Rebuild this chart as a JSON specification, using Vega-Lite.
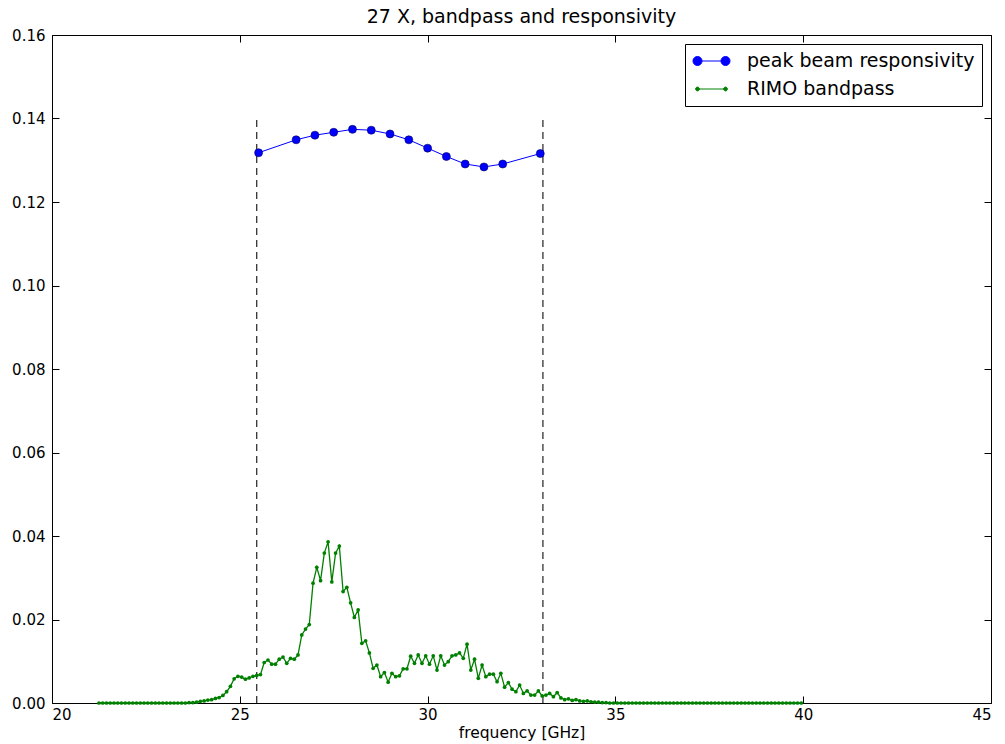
{
  "$schema": "https://vega.github.io/schema/vega-lite/v6.json",
  "width": 939,
  "height": 668,
  "autosize": {"type": "none"},
  "padding": {"left": 52, "top": 35, "right": 14, "bottom": 41},
  "title": {"text": "27 X, bandpass and responsivity", "fontSize": 19, "font": "DejaVu Sans", "fontWeight": "normal", "color": "black", "offset": 1},
  "config": {
    "font": "DejaVu Sans",
    "view": {"stroke": "black", "strokeWidth": 1},
    "axis": {"domain": false, "grid": false, "tickColor": "black", "tickSize": -7, "tickWidth": 1, "labelFont": "DejaVu Sans", "labelFontSize": 15, "labelColor": "black", "titleFont": "DejaVu Sans", "titleFontSize": 15.5, "titleFontWeight": "normal", "titleColor": "black"},
    "legend": {"labelFont": "DejaVu Sans", "labelFontSize": 19, "labelColor": "black", "labelLimit": 0}
  },
  "datasets": {
    "edges": [{"f": 25.45}, {"f": 33.07}],
    "resp": [
      {"f": 25.5, "v": 0.1318}, {"f": 26.5, "v": 0.1349}, {"f": 27.0, "v": 0.1360}, {"f": 27.5, "v": 0.1367},
      {"f": 28.0, "v": 0.1374}, {"f": 28.5, "v": 0.1372}, {"f": 29.0, "v": 0.1363}, {"f": 29.5, "v": 0.1349},
      {"f": 30.0, "v": 0.1329}, {"f": 30.5, "v": 0.1309}, {"f": 31.0, "v": 0.1291}, {"f": 31.5, "v": 0.1284},
      {"f": 32.0, "v": 0.1291}, {"f": 33.0, "v": 0.1316}
    ],
    "band": [
      {"f": 21.25, "v": 0}, {"f": 21.35, "v": 0}, {"f": 21.45, "v": 0}, {"f": 21.55, "v": 0}, {"f": 21.65, "v": 0},
      {"f": 21.75, "v": 0}, {"f": 21.85, "v": 0}, {"f": 21.95, "v": 0}, {"f": 22.05, "v": 0}, {"f": 22.15, "v": 0},
      {"f": 22.25, "v": 0}, {"f": 22.35, "v": 0}, {"f": 22.45, "v": 0}, {"f": 22.55, "v": 0}, {"f": 22.65, "v": 0},
      {"f": 22.75, "v": 0}, {"f": 22.85, "v": 0}, {"f": 22.95, "v": 0}, {"f": 23.05, "v": 0}, {"f": 23.15, "v": 0},
      {"f": 23.25, "v": 0}, {"f": 23.35, "v": 0}, {"f": 23.45, "v": 0}, {"f": 23.55, "v": 0}, {"f": 23.65, "v": 0.0001},
      {"f": 23.75, "v": 0.0001}, {"f": 23.85, "v": 0.0002}, {"f": 23.95, "v": 0.0004}, {"f": 24.05, "v": 0.0005},
      {"f": 24.15, "v": 0.0007}, {"f": 24.25, "v": 0.0008}, {"f": 24.35, "v": 0.0011}, {"f": 24.45, "v": 0.0013},
      {"f": 24.55, "v": 0.0018}, {"f": 24.65, "v": 0.0027}, {"f": 24.75, "v": 0.0040}, {"f": 24.85, "v": 0.0058},
      {"f": 24.95, "v": 0.0064}, {"f": 25.05, "v": 0.0062}, {"f": 25.15, "v": 0.0057}, {"f": 25.25, "v": 0.0060},
      {"f": 25.35, "v": 0.0064}, {"f": 25.45, "v": 0.0066}, {"f": 25.55, "v": 0.0068}, {"f": 25.65, "v": 0.0097},
      {"f": 25.75, "v": 0.0103}, {"f": 25.85, "v": 0.0093}, {"f": 25.95, "v": 0.0093}, {"f": 26.05, "v": 0.0105},
      {"f": 26.15, "v": 0.0110}, {"f": 26.25, "v": 0.0095}, {"f": 26.35, "v": 0.0107}, {"f": 26.45, "v": 0.0105},
      {"f": 26.55, "v": 0.0115}, {"f": 26.65, "v": 0.0163}, {"f": 26.75, "v": 0.0177}, {"f": 26.85, "v": 0.0188},
      {"f": 26.95, "v": 0.0287}, {"f": 27.05, "v": 0.0325}, {"f": 27.15, "v": 0.0293}, {"f": 27.25, "v": 0.0359},
      {"f": 27.35, "v": 0.0386}, {"f": 27.45, "v": 0.0290}, {"f": 27.55, "v": 0.0359}, {"f": 27.65, "v": 0.0376},
      {"f": 27.75, "v": 0.0267}, {"f": 27.85, "v": 0.0277}, {"f": 27.95, "v": 0.0240}, {"f": 28.05, "v": 0.0205},
      {"f": 28.15, "v": 0.0223}, {"f": 28.25, "v": 0.0143}, {"f": 28.35, "v": 0.0149}, {"f": 28.45, "v": 0.0120},
      {"f": 28.55, "v": 0.0083}, {"f": 28.65, "v": 0.0091}, {"f": 28.75, "v": 0.0063}, {"f": 28.85, "v": 0.0073},
      {"f": 28.95, "v": 0.0050}, {"f": 29.05, "v": 0.0071}, {"f": 29.15, "v": 0.0063}, {"f": 29.25, "v": 0.0065},
      {"f": 29.35, "v": 0.0082}, {"f": 29.45, "v": 0.0082}, {"f": 29.55, "v": 0.0112}, {"f": 29.65, "v": 0.0095},
      {"f": 29.75, "v": 0.0115}, {"f": 29.85, "v": 0.0095}, {"f": 29.95, "v": 0.0113}, {"f": 30.05, "v": 0.0093},
      {"f": 30.15, "v": 0.0113}, {"f": 30.25, "v": 0.0079}, {"f": 30.35, "v": 0.0113}, {"f": 30.45, "v": 0.0091},
      {"f": 30.55, "v": 0.0099}, {"f": 30.65, "v": 0.0113}, {"f": 30.75, "v": 0.0115}, {"f": 30.85, "v": 0.0120},
      {"f": 30.95, "v": 0.0107}, {"f": 31.05, "v": 0.0141}, {"f": 31.15, "v": 0.0079}, {"f": 31.25, "v": 0.0105},
      {"f": 31.35, "v": 0.0059}, {"f": 31.45, "v": 0.0091}, {"f": 31.55, "v": 0.0063}, {"f": 31.65, "v": 0.0069},
      {"f": 31.75, "v": 0.0069}, {"f": 31.85, "v": 0.0051}, {"f": 31.95, "v": 0.0071}, {"f": 32.05, "v": 0.0038},
      {"f": 32.15, "v": 0.0049}, {"f": 32.25, "v": 0.0033}, {"f": 32.35, "v": 0.0027}, {"f": 32.45, "v": 0.0043},
      {"f": 32.55, "v": 0.0023}, {"f": 32.65, "v": 0.0029}, {"f": 32.75, "v": 0.0019}, {"f": 32.85, "v": 0.0019},
      {"f": 32.95, "v": 0.0029}, {"f": 33.05, "v": 0.0017}, {"f": 33.15, "v": 0.0019}, {"f": 33.25, "v": 0.0023},
      {"f": 33.35, "v": 0.0015}, {"f": 33.45, "v": 0.0025}, {"f": 33.55, "v": 0.0012}, {"f": 33.65, "v": 0.0008},
      {"f": 33.75, "v": 0.0010}, {"f": 33.85, "v": 0.0006}, {"f": 33.95, "v": 0.0008}, {"f": 34.05, "v": 0.0005},
      {"f": 34.15, "v": 0.0004}, {"f": 34.25, "v": 0.0005}, {"f": 34.35, "v": 0.0003}, {"f": 34.45, "v": 0.0002},
      {"f": 34.55, "v": 0.0002}, {"f": 34.65, "v": 0.0001}, {"f": 34.75, "v": 0.0001}, {"f": 34.85, "v": 0},
      {"f": 34.95, "v": 0}, {"f": 35.05, "v": 0}, {"f": 35.15, "v": 0}, {"f": 35.25, "v": 0}, {"f": 35.35, "v": 0},
      {"f": 35.45, "v": 0}, {"f": 35.55, "v": 0}, {"f": 35.65, "v": 0}, {"f": 35.75, "v": 0}, {"f": 35.85, "v": 0},
      {"f": 35.95, "v": 0}, {"f": 36.05, "v": 0}, {"f": 36.15, "v": 0}, {"f": 36.25, "v": 0}, {"f": 36.35, "v": 0},
      {"f": 36.45, "v": 0}, {"f": 36.55, "v": 0}, {"f": 36.65, "v": 0}, {"f": 36.75, "v": 0}, {"f": 36.85, "v": 0},
      {"f": 36.95, "v": 0}, {"f": 37.05, "v": 0}, {"f": 37.15, "v": 0}, {"f": 37.25, "v": 0}, {"f": 37.35, "v": 0},
      {"f": 37.45, "v": 0}, {"f": 37.55, "v": 0}, {"f": 37.65, "v": 0}, {"f": 37.75, "v": 0}, {"f": 37.85, "v": 0},
      {"f": 37.95, "v": 0}, {"f": 38.05, "v": 0}, {"f": 38.15, "v": 0}, {"f": 38.25, "v": 0}, {"f": 38.35, "v": 0},
      {"f": 38.45, "v": 0}, {"f": 38.55, "v": 0}, {"f": 38.65, "v": 0}, {"f": 38.75, "v": 0}, {"f": 38.85, "v": 0},
      {"f": 38.95, "v": 0}, {"f": 39.05, "v": 0}, {"f": 39.15, "v": 0}, {"f": 39.25, "v": 0}, {"f": 39.35, "v": 0},
      {"f": 39.45, "v": 0}, {"f": 39.55, "v": 0}, {"f": 39.65, "v": 0}, {"f": 39.75, "v": 0}, {"f": 39.85, "v": 0},
      {"f": 39.95, "v": 0}
    ]
  },
  "layer": [
    {
      "data": {"name": "edges"},
      "mark": {"type": "rule", "color": "#333333", "strokeWidth": 1.3, "strokeDash": [7, 5]},
      "encoding": {
        "x": {"field": "f", "type": "quantitative", "scale": {"domain": [20, 45], "nice": false, "zero": false},
              "axis": {"orient": "top", "labels": false, "title": null, "values": [20, 25, 30, 35, 40, 45]}},
        "y": {"datum": 0, "type": "quantitative", "scale": {"domain": [0, 0.16], "nice": false},
              "axis": {"orient": "right", "labels": false, "title": null, "values": [0, 0.02, 0.04, 0.06, 0.08, 0.1, 0.12, 0.14, 0.16]}},
        "y2": {"datum": 0.14}
      }
    },
    {
      "data": {"name": "band"},
      "mark": {"type": "line", "strokeWidth": 1.3},
      "encoding": {
        "x": {"field": "f", "type": "quantitative", "scale": {"domain": [20, 45], "nice": false, "zero": false},
              "axis": {"orient": "bottom", "title": "frequency [GHz]", "values": [20, 25, 30, 35, 40, 45], "labelPadding": 11, "titlePadding": 3}},
        "y": {"field": "v", "type": "quantitative", "scale": {"domain": [0, 0.16], "nice": false},
              "axis": {"orient": "left", "title": null, "format": ".2f", "values": [0, 0.02, 0.04, 0.06, 0.08, 0.1, 0.12, 0.14, 0.16], "labelPadding": 14}},
        "color": {"datum": "RIMO bandpass", "type": "nominal",
                  "scale": {"domain": ["peak beam responsivity", "RIMO bandpass"], "range": ["#0000ff", "#008000"]},
                  "legend": {"title": null, "orient": "top-right", "offset": 9, "padding": 7, "rowPadding": 8, "labelOffset": 16, "clipHeight": 20,
                             "symbolSize": 1444, "strokeColor": "black", "fillColor": "white", "cornerRadius": 0,
                             "encode": {"symbols": {"update": {
                               "shape": {"signal": "datum.value === 'RIMO bandpass' ? 'M-0.737,0L0.737,0M-0.837,0A0.1,0.1,0,1,0,-0.637,0A0.1,0.1,0,1,0,-0.837,0ZM0.637,0A0.1,0.1,0,1,0,0.837,0A0.1,0.1,0,1,0,0.637,0Z' : 'M-0.737,0L0.737,0M-0.974,0A0.237,0.237,0,1,0,-0.5,0A0.237,0.237,0,1,0,-0.974,0ZM0.5,0A0.237,0.237,0,1,0,0.974,0A0.237,0.237,0,1,0,0.5,0Z'"},
                               "fill": {"signal": "datum.value === 'RIMO bandpass' ? '#008000' : '#0000ff'"},
                               "stroke": {"signal": "datum.value === 'RIMO bandpass' ? '#008000' : '#0000ff'"},
                               "strokeWidth": {"value": 1},
                               "opacity": {"value": 1}
                             }}}}}
      }
    },
    {
      "data": {"name": "band"},
      "mark": {"type": "point", "shape": "circle", "filled": true, "size": 14, "color": "#008000", "opacity": 1},
      "encoding": {
        "x": {"field": "f", "type": "quantitative", "axis": null},
        "y": {"field": "v", "type": "quantitative", "axis": null}
      }
    },
    {
      "data": {"name": "resp"},
      "mark": {"type": "line", "strokeWidth": 1},
      "encoding": {
        "x": {"field": "f", "type": "quantitative", "axis": null},
        "y": {"field": "v", "type": "quantitative", "axis": null},
        "color": {"datum": "peak beam responsivity", "type": "nominal"}
      }
    },
    {
      "data": {"name": "resp"},
      "mark": {"type": "point", "shape": "circle", "filled": true, "size": 64, "fill": "#0000ff", "stroke": "#000060", "strokeWidth": 0.6, "opacity": 1},
      "encoding": {
        "x": {"field": "f", "type": "quantitative", "axis": null},
        "y": {"field": "v", "type": "quantitative", "axis": null}
      }
    }
  ],
  "resolve": {"axis": {"x": "independent", "y": "independent"}}
}
